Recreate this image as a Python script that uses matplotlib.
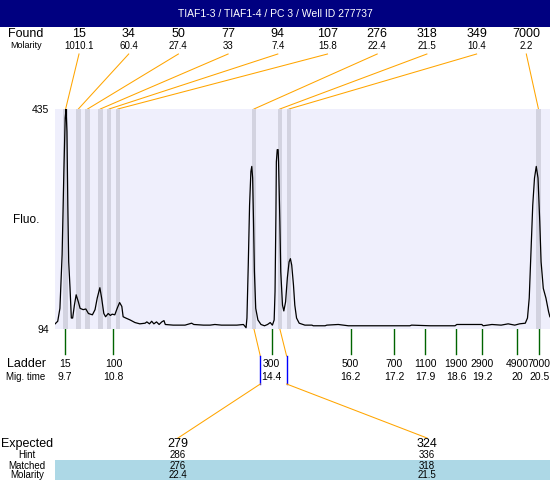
import numpy as np
import matplotlib
matplotlib.use("Agg")
import matplotlib.pyplot as plt

plt.rcParams['font.family'] = ['Liberation Sans', 'DejaVu Sans']

title = "TIAF1-3 / TIAF1-4 / PC 3 / Well ID 277737"

# found peaks
found_sizes = [15, 34, 50, 77, 94, 107, 276, 318, 349, 7000]
found_molarity = ['1010.1', '60.4', '27.4', '33', '7.4', '15.8', '22.4', '21.5', '10.4', '2.2']
found_times = [9.71, 10.00, 10.21, 10.50, 10.70, 10.90, 14.00, 14.59, 14.80, 20.48]

# ladder
ladder_sizes = [15, 100, 300, 500, 700, 1100, 1900, 2900, 4900, 7000]
ladder_times = [9.7, 10.8, 14.4, 16.2, 17.2, 17.9, 18.6, 19.2, 20.0, 20.5]

# expected fragments
expected = [279, 324]
hint = [286, 336]
matched = [276, 318]
matched_molarity = ['22.4', '21.5']

# electropherogram trace (migration time, fluorescence)
trace_time = [9.47, 9.53, 9.58, 9.63, 9.67, 9.70, 9.72, 9.74, 9.76, 9.78, 9.81, 9.84, 9.87,
              9.91, 9.95, 10.00, 10.04, 10.11, 10.17, 10.23, 10.32, 10.38, 10.43, 10.49, 10.53,
              10.58, 10.62, 10.68, 10.73, 10.77, 10.83, 10.89, 10.94, 10.99, 11.02, 11.08, 11.18,
              11.29, 11.40, 11.52, 11.56, 11.62, 11.67, 11.72, 11.78, 11.84, 11.90, 11.95, 11.98,
              12.16, 12.32, 12.43, 12.53, 12.58, 12.63, 12.85, 13.00, 13.11, 13.26, 13.45, 13.61,
              13.76, 13.82, 13.84, 13.87, 13.90, 13.93, 13.95, 13.97, 13.99, 14.01, 14.04, 14.09,
              14.16, 14.24, 14.31, 14.37, 14.42, 14.46, 14.48, 14.50, 14.51, 14.53, 14.55, 14.56,
              14.59, 14.61, 14.65, 14.68, 14.72, 14.76, 14.80, 14.83, 14.86, 14.90, 14.93, 14.97,
              15.03, 15.16, 15.32, 15.35, 15.62, 15.66, 15.92, 16.15, 17.55, 17.59, 18.01, 18.58,
              18.62, 19.19, 19.22, 19.42, 19.60, 19.63, 19.79, 19.94, 20.05, 20.18, 20.23, 20.27,
              20.31, 20.35, 20.39, 20.43, 20.47, 20.51, 20.54, 20.59, 20.65, 20.71, 20.74]
trace_fluo = [102, 106, 126, 209, 338, 421, 435, 400, 286, 198, 158, 111, 111,
              131, 147, 136, 126, 124, 125, 118, 116, 124, 142, 158, 142,
              118, 113, 118, 115, 117, 116, 127, 135, 129, 113, 111, 108,
              104, 102, 103, 105, 102, 106, 102, 105, 101, 105, 107, 101,
              100, 100, 100, 102, 103, 101, 100, 100, 101, 100, 100, 100,
              101, 96, 111, 193, 286, 338, 346, 328, 260, 183, 126, 108,
              101, 99, 101, 104, 100, 108, 152, 271, 353, 372, 372, 353,
              260, 183, 131, 122, 136, 173, 198, 203, 193, 162, 131, 111,
              103, 100, 100, 99, 99, 100, 101, 99, 99, 100, 99, 99,
              101, 101, 99, 101, 100, 100, 102, 100, 102, 103, 111, 142,
              214, 286, 328, 346, 328, 260, 198, 157, 142, 121, 113]

orange = '#FFA500'
green = '#006400'

fig = plt.figure(figsize=(5.5, 4.8), dpi=100)

# overlay in pixel coordinates
ov = fig.add_axes([0, 0, 1, 1])
ov.set_xlim(0, 550)
ov.set_ylim(480, 0)
ov.axis('off')

# main electropherogram
ax = fig.add_axes([55/550, (480-329)/480, 495/550, 220/480])
ax.set_facecolor('#EFEFFC')
ax.set_xlim(9.468, 20.743)
ax.set_ylim(94, 435)
for t in found_times:
    ax.axvspan(t - 0.05, t + 0.05, color='#D3D3E0', lw=0)
ax.plot(trace_time, trace_fluo, color='black', lw=0.9)
ax.set_xticks([])
ax.set_yticks([94, 435])
ax.set_yticklabels(['94', '435'], fontsize=7.5)
ax.tick_params(axis='y', length=0, pad=4)
for s in ax.spines.values():
    s.set_visible(False)


def px(t):
    # data migration time -> overlay pixel x
    disp = ax.transData.transform((t, 94))
    return ov.transData.inverted().transform(disp)[0]


# title bar
ov.add_patch(plt.Rectangle((0, 0), 550, 27, color='#000080', lw=0))
ov.text(275, 14, title, color='white', fontsize=7.5, ha='center', va='center')

# found rows
ov.text(26, 34, 'Found', fontsize=9, ha='center', va='center')
ov.text(26, 46, 'Molarity', fontsize=6.5, ha='center', va='center')
for i, (s, m, t) in enumerate(zip(found_sizes, found_molarity, found_times)):
    lx = 79 + i * 49.7
    ov.text(lx, 34, str(s), fontsize=9, ha='center', va='center')
    ov.text(lx, 46, m, fontsize=7, ha='center', va='center')
    ov.plot([lx, px(t)], [54, 109], color=orange, lw=0.75)

ov.text(26, 220, 'Fluo.', fontsize=8.5, ha='center', va='center')

# ladder rows
ov.text(26, 364, 'Ladder', fontsize=9, ha='center', va='center')
ov.text(26, 377, 'Mig. time', fontsize=7, ha='center', va='center')
for s, t in zip(ladder_sizes, ladder_times):
    x = px(t)
    ov.plot([x, x], [329, 354], color=green, lw=1)
    ov.text(x, 364, str(s), fontsize=7.5, ha='center', va='center')
    ov.text(x, 377, f"{t:g}", fontsize=7.5, ha='center', va='center')

# matched peaks to expected
blue_x = [260.3, 286.6]
exp_x = [178, 427]
for t, bx, ex in zip(found_times[6:8], blue_x, exp_x):
    ov.plot([px(t), bx], [329, 356], color=orange, lw=0.75)
    ov.plot([bx, bx], [356, 384], color='blue', lw=1)
    ov.plot([bx, ex], [384, 438], color=orange, lw=0.75)

ov.add_patch(plt.Rectangle((55, 460), 495, 20, color='#ADD8E6', lw=0))
ov.text(27, 444, 'Expected', fontsize=9, ha='center', va='center')
ov.text(27, 455, 'Hint', fontsize=7, ha='center', va='center')
ov.text(27, 466, 'Matched', fontsize=7, ha='center', va='center')
ov.text(27, 475, 'Molarity', fontsize=7, ha='center', va='center')
for ex, e, h, m, mm in zip(exp_x, expected, hint, matched, matched_molarity):
    ov.text(ex, 444, str(e), fontsize=9, ha='center', va='center')
    ov.text(ex, 455, str(h), fontsize=7, ha='center', va='center')
    ov.text(ex, 466, str(m), fontsize=7, ha='center', va='center')
    ov.text(ex, 475, mm, fontsize=7, ha='center', va='center')

fig.savefig('out.png', dpi=100)
